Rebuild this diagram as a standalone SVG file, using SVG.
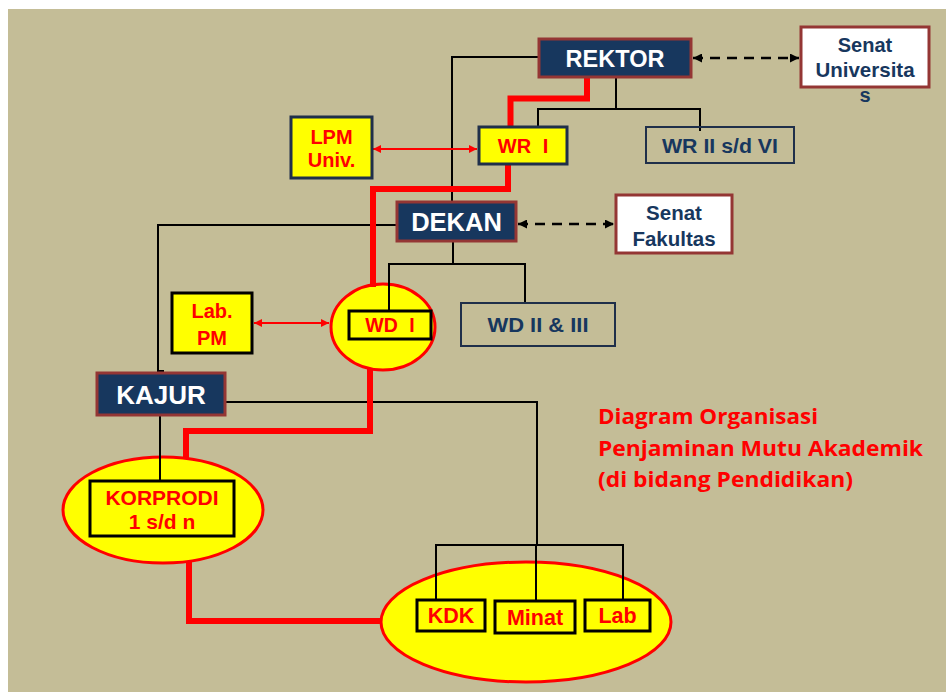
<svg xmlns="http://www.w3.org/2000/svg" width="946" height="692" viewBox="0 0 946 692">
<defs>
<marker id="ab" viewBox="0 0 10 10" refX="10" refY="5" markerWidth="10" markerHeight="9" markerUnits="userSpaceOnUse" orient="auto-start-reverse"><path d="M0,0 L10,5 L0,10 z" fill="#000"/></marker>
<marker id="ar" viewBox="0 0 10 10" refX="10" refY="5" markerWidth="9" markerHeight="8" markerUnits="userSpaceOnUse" orient="auto-start-reverse"><path d="M0,0 L10,5 L0,10 z" fill="#f00"/></marker>
<style>
.navy{fill:#17375e;stroke:#943634;stroke-width:3}
.white{fill:#fff;stroke:#943634;stroke-width:3}
.yb{fill:#ff0;stroke:#1f2f4a;stroke-width:3}
.yk{fill:#ff0;stroke:#000;stroke-width:3}
.out{fill:none;stroke:#1f2f4a;stroke-width:2}
.ell{fill:#ff0;stroke:#f00;stroke-width:3}
.blk{fill:none;stroke:#000;stroke-width:2}
.red{fill:none;stroke:#f00;stroke-width:6}
.dash{fill:none;stroke:#000;stroke-width:2.5;stroke-dasharray:10 7}
.rar{fill:none;stroke:#f00;stroke-width:2}
text{font-family:"Liberation Sans",Arial,sans-serif;font-weight:bold;text-anchor:middle}
.tw{fill:#fff}
.tn{fill:#17375e}
.tr{fill:#f00}
.title{font-family:"Open Sans","Noto Sans",sans-serif;font-weight:bold;text-anchor:start;fill:#f00;font-size:22px}
</style>
</defs>
<rect x="8" y="9" width="938" height="683" fill="#c4bd97"/>
<g id="ellipses">
<ellipse id="wd1-ellipse" cx="383" cy="327" rx="52" ry="43" class="ell"/>
<ellipse id="korprodi-ellipse" cx="163" cy="510" rx="100" ry="53" class="ell"/>
<ellipse id="bidang-ellipse" cx="526" cy="622" rx="145" ry="60" class="ell"/>
</g>
<g id="connectors">
<polyline class="blk" points="539,57 452,57 452,203"/>
<polyline class="blk" points="616,77 616,109"/>
<polyline class="blk" points="538,127 538,109 700,109 700,131"/>
<polyline class="blk" points="453,241 453,264"/>
<polyline class="blk" points="389,311 389,264 525,264 525,303"/>
<polyline class="blk" points="397,225 158,225 158,371 164,371"/>
<line class="blk" x1="160" y1="415" x2="160" y2="481"/>
<polyline class="blk" points="225,402 537,402 537,545"/>
<polyline class="blk" points="436,600 436,545 623,545 623,600"/>
<line class="blk" x1="536" y1="545" x2="536" y2="601"/>
<line class="dash" x1="693" y1="58" x2="799" y2="58" marker-start="url(#ab)" marker-end="url(#ab)"/>
<line class="dash" x1="518" y1="224" x2="614" y2="224" marker-start="url(#ab)" marker-end="url(#ab)"/>
<line class="rar" x1="373" y1="149" x2="477" y2="149" marker-start="url(#ar)" marker-end="url(#ar)"/>
<line class="rar" x1="254" y1="323" x2="329" y2="323" marker-start="url(#ar)" marker-end="url(#ar)"/>
<polyline class="red" points="587,78 587,98.5 510.5,98.5 510.5,127"/>
<polyline class="red" points="508,164 508,189 373,189 373,287"/>
<polyline class="red" points="370,368 370,431 186,431 186,459"/>
<polyline class="red" points="189,561 189,621 382,621"/>
</g>
<g id="rektor"><rect x="539" y="39" width="152" height="38" class="navy"/><text x="615" y="66.5" font-size="23.5" class="tw">REKTOR</text></g>
<g id="senat-universitas"><rect x="801" y="27" width="128" height="60" class="white"/><text x="865" y="51.5" font-size="20" class="tn">Senat</text><text x="865" y="76.5" font-size="20.5" class="tn">Universita</text><text x="865" y="101.5" font-size="20" class="tn">s</text></g>
<g id="wr1"><rect x="479" y="127" width="88" height="37" class="yb"/><text x="523" y="153" font-size="20" class="tr" word-spacing="6">WR I</text></g>
<g id="wr2-6"><rect x="646" y="127" width="148" height="36" class="out"/><text x="720" y="153" font-size="20" class="tn" textLength="116" lengthAdjust="spacingAndGlyphs">WR II s/d VI</text></g>
<g id="lpm"><rect x="291" y="117" width="81" height="61" class="yb"/><text x="331.5" y="143.5" font-size="20" class="tr">LPM</text><text x="331.5" y="167" font-size="20" class="tr">Univ.</text></g>
<g id="dekan"><rect x="397" y="202" width="119" height="39" class="navy"/><text x="456.5" y="230.5" font-size="25.5" class="tw">DEKAN</text></g>
<g id="senat-fakultas"><rect x="616" y="195" width="116" height="58" class="white"/><text x="674" y="220" font-size="20.5" class="tn">Senat</text><text x="674" y="245.5" font-size="20.5" class="tn">Fakultas</text></g>
<g id="wd1"><rect x="349" y="311" width="82" height="28" class="yk"/><text x="390" y="332" font-size="19.5" class="tr" word-spacing="6">WD I</text></g>
<g id="wd2-3"><rect x="461" y="303" width="154" height="43" class="out"/><text x="538" y="332" font-size="20" class="tn" textLength="101" lengthAdjust="spacingAndGlyphs">WD II &amp; III</text></g>
<g id="lab-pm"><rect x="172" y="293" width="80" height="60" class="yk"/><text x="212" y="318" font-size="20" class="tr">Lab.</text><text x="212" y="344.5" font-size="20" class="tr">PM</text></g>
<g id="kajur"><rect x="97" y="373" width="128" height="42" class="navy"/><text x="161" y="404" font-size="26" class="tw">KAJUR</text></g>
<g id="korprodi"><rect x="90" y="481" width="144" height="55" class="yk"/><text x="162" y="505" font-size="21" class="tr">KORPRODI</text><text x="162" y="528.5" font-size="21" class="tr">1 s/d n</text></g>
<g id="kdk"><rect x="417" y="600" width="68" height="31" class="yk"/><text x="451" y="623" font-size="21.5" class="tr">KDK</text></g>
<g id="minat"><rect x="495" y="601" width="80" height="32" class="yk"/><text x="535" y="624.5" font-size="21.5" class="tr">Minat</text></g>
<g id="lab"><rect x="585" y="600" width="65" height="31" class="yk"/><text x="617.5" y="623" font-size="21.5" class="tr">Lab</text></g>
<g id="title"><text x="598" y="424" class="title" textLength="220" lengthAdjust="spacingAndGlyphs">Diagram Organisasi</text><text x="598" y="456" class="title" textLength="325" lengthAdjust="spacingAndGlyphs">Penjaminan Mutu Akademik</text><text x="598" y="487" class="title" textLength="255" lengthAdjust="spacingAndGlyphs">(di bidang Pendidikan)</text></g>
</svg>
